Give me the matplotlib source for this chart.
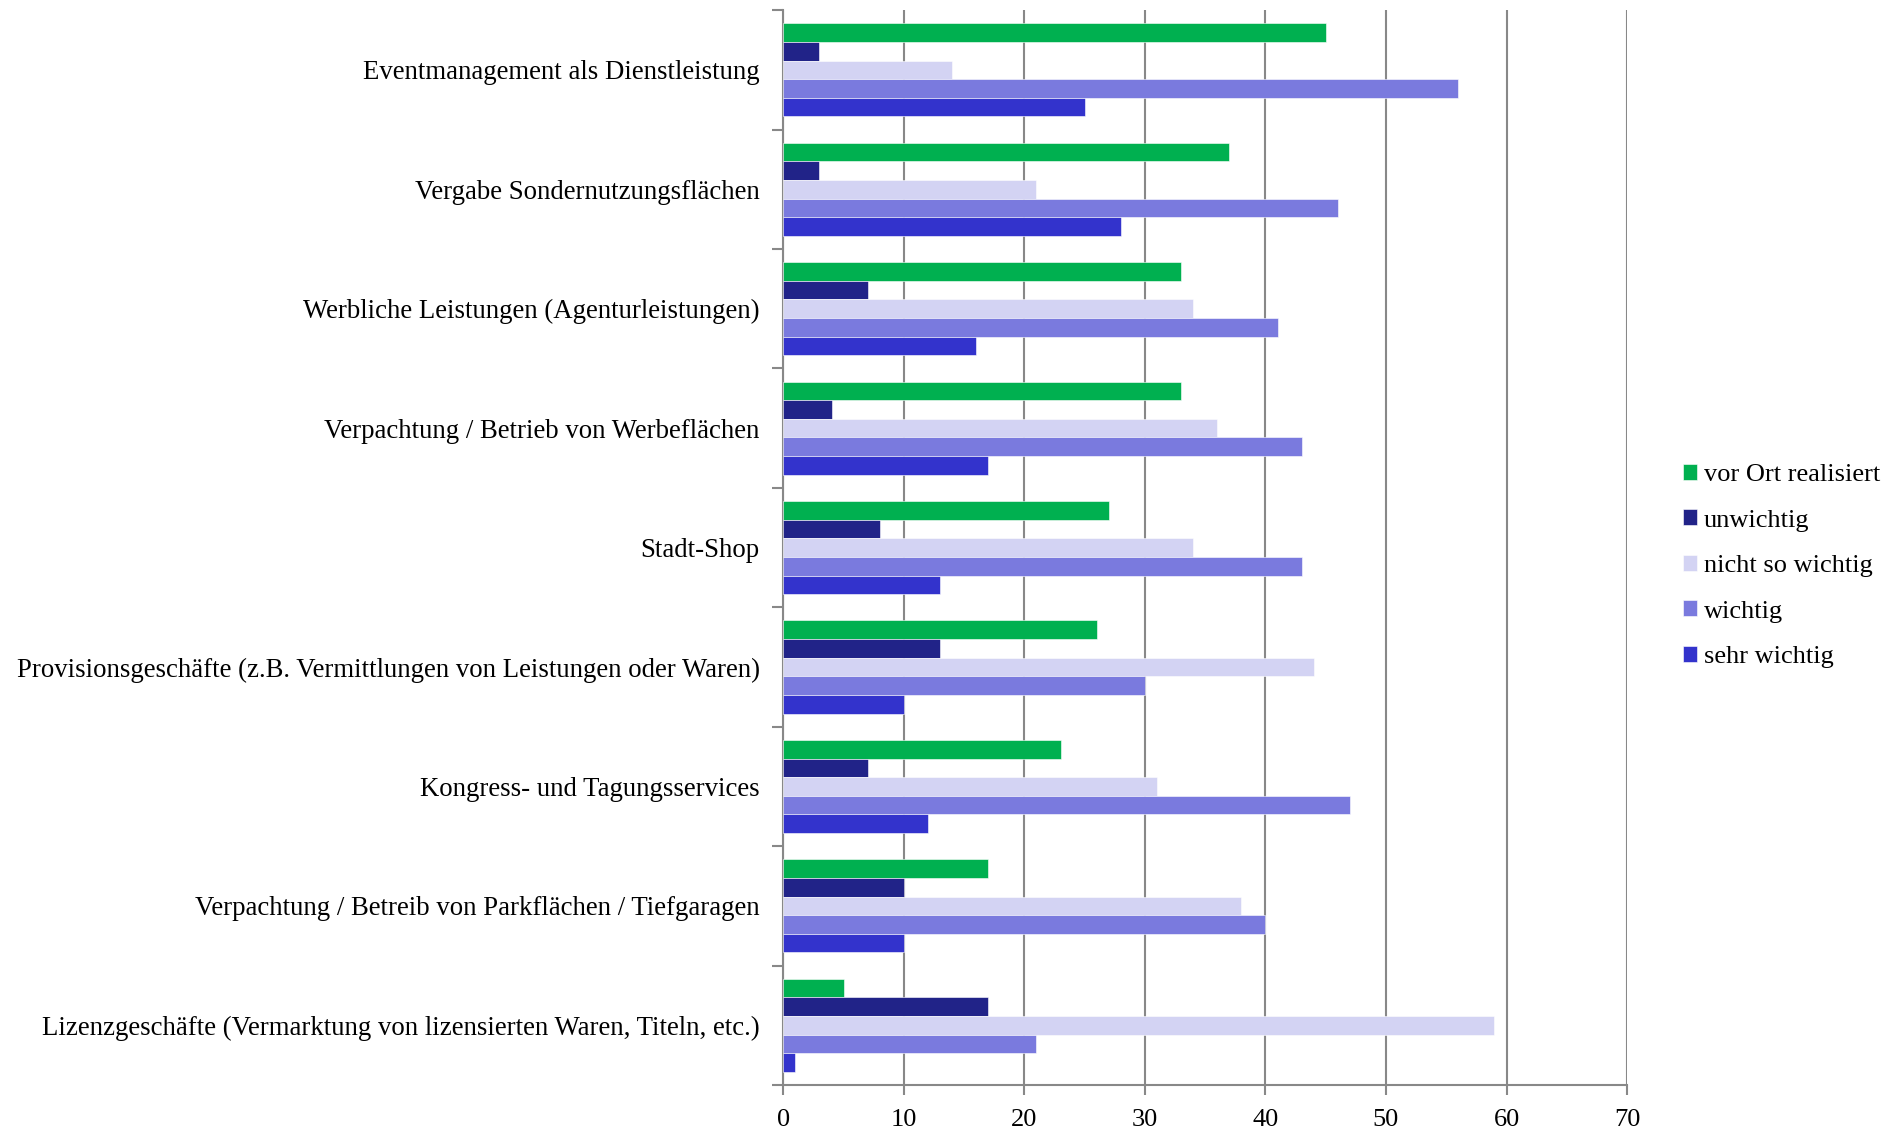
import matplotlib
matplotlib.use("Agg")
import matplotlib.pyplot as plt
import numpy as np

categories = [
    "Eventmanagement als Dienstleistung",
    "Vergabe Sondernutzungsflächen",
    "Werbliche Leistungen (Agenturleistungen)",
    "Verpachtung / Betrieb von Werbeflächen",
    "Stadt-Shop",
    "Provisionsgeschäfte (z.B. Vermittlungen von Leistungen oder Waren)",
    "Kongress- und Tagungsservices",
    "Verpachtung / Betreib von Parkflächen / Tiefgaragen",
    "Lizenzgeschäfte (Vermarktung von lizensierten Waren, Titeln, etc.)",
]
series_names = ["vor Ort realisiert", "unwichtig", "nicht so wichtig", "wichtig", "sehr wichtig"]
vor_ort = [45, 37, 33, 33, 27, 26, 23, 17, 5]
unwichtig = [3, 3, 7, 4, 8, 13, 7, 10, 17]
nicht_so_wichtig = [14, 21, 34, 36, 34, 44, 31, 38, 59]
wichtig = [56, 46, 41, 43, 43, 30, 47, 40, 21]
sehr_wichtig = [25, 28, 16, 17, 13, 10, 12, 10, 1]
x_ticks = [0, 10, 20, 30, 40, 50, 60, 70]

colors = ["#00B050", "#212388", "#D3D3F3", "#7A7ADE", "#3333CC"]
series = [vor_ort, unwichtig, nicht_so_wichtig, wichtig, sehr_wichtig]

plt.rcParams['font.family'] = ['Liberation Serif', 'DejaVu Serif']

fig = plt.figure(figsize=(18.99, 11.30), dpi=100)
ax = fig.add_axes([0.4125, 0.0398, 0.8568 - 0.4125, 0.991 - 0.0398])

n = len(categories)
pos = np.arange(n)
h = 0.156
for k, (vals, col, name) in enumerate(zip(series, colors, series_names)):
    ax.barh(pos + (k - 2) * h, vals, height=h, color=col, label=name, zorder=3,
            edgecolor='white', linewidth=0.4)

ax.set_ylim(n - 0.5, -0.5)
ax.set_xlim(0, 70)
ax.set_xticks(x_ticks)
ax.set_xticklabels([str(t) for t in x_ticks], fontsize=19)

ax.set_yticks(np.arange(n + 1) - 0.5)
ax.set_yticklabels([])
ax.set_yticks(pos, minor=True)
ax.set_yticklabels(categories, minor=True, fontsize=19.3)
ax.tick_params(axis='y', which='minor', length=0, pad=17)
ax.tick_params(axis='y', which='major', length=8, width=1.5, color='#888888', direction='out')
ax.tick_params(axis='x', length=7, width=1.5, color='#888888', direction='out', pad=10)

ax.grid(axis='x', color='#888888', linewidth=1.5, zorder=0)
for s in ['top', 'right']:
    ax.spines[s].set_visible(False)
for s in ['left', 'bottom']:
    ax.spines[s].set_color('#888888')
    ax.spines[s].set_linewidth(1.5)

fig.legend(loc='center left', bbox_to_anchor=(0.8805, 0.499), frameon=False,
           fontsize=19, handlelength=0.55, handleheight=0.55, handletextpad=0.25,
           labelspacing=0.88, borderaxespad=0)

fig.savefig("out.png", dpi=100, facecolor='white')
